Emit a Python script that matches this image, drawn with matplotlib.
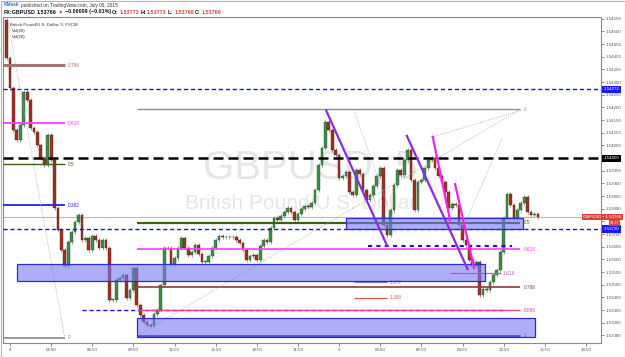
import matplotlib
matplotlib.use("Agg")
import matplotlib.pyplot as plt
import matplotlib.transforms as mtransforms
from matplotlib.patches import Rectangle
import numpy as np

plt.rcParams['font.family'] = ['Liberation Sans', 'DejaVu Sans']

first_open = 1.54545
closes = [
    1.54395, 1.54276, 1.54111, 1.54071, 1.54130, 1.54261, 1.54229, 1.54118, 1.54103, 1.54051,
    1.54000, 1.53972, 1.54091, 1.53992, 1.53803, 1.53716, 1.53637, 1.53574, 1.53668, 1.53708,
    1.53747, 1.53775, 1.53676, 1.53684, 1.53637, 1.53692, 1.53676, 1.53645, 1.53676, 1.53645,
    1.53440, 1.53440, 1.53518, 1.53526, 1.53538, 1.53447, 1.53479, 1.53566, 1.53420, 1.53380,
    1.53353, 1.53341, 1.53337, 1.53384, 1.53400, 1.53499, 1.53645, 1.53645, 1.53582, 1.53605,
    1.53645, 1.53684, 1.53645, 1.53617, 1.53629, 1.53657, 1.53621, 1.53590, 1.53590, 1.53613,
    1.53645, 1.53676, 1.53692, 1.53688, 1.53688, 1.53688, 1.53688, 1.53676, 1.53665, 1.53637,
    1.53597, 1.53613, 1.53617, 1.53597, 1.53653, 1.53676, 1.53668, 1.53724, 1.53763, 1.53755,
    1.53771, 1.53787, 1.53803, 1.53787, 1.53755, 1.53779, 1.53799, 1.53811, 1.53807, 1.53822,
    1.53874, 1.53972, 1.54039, 1.54142, 1.54111, 1.54032, 1.54012, 1.53921, 1.53929, 1.53945,
    1.53866, 1.53854, 1.53953, 1.53937, 1.53874, 1.53834, 1.53854, 1.53889, 1.53929, 1.53961,
    1.53736, 1.53696, 1.53795, 1.53893, 1.53953, 1.53933, 1.53992, 1.54032, 1.53913, 1.53795,
    1.53905, 1.53913, 1.53961, 1.53992, 1.54000, 1.53961, 1.53929, 1.53905, 1.53866, 1.53803,
    1.53818, 1.53814, 1.53736, 1.53676, 1.53657, 1.53597, 1.53574, 1.53590, 1.53459, 1.53483,
    1.53479, 1.53511, 1.53538, 1.53558, 1.53629, 1.53763, 1.53858, 1.53814, 1.53763, 1.53795,
    1.53822, 1.53846, 1.53787, 1.53775, 1.53779, 1.53766,
]
bar_hours = np.arange(len(closes)) * 0.25 - 0.25   # hours from Jul 8 00:00

xtick_hours = [0, 3, 6, 9, 12, 15, 18, 21, 24, 27, 30, 33, 36, 39, 42]
xtick_labels = ['8', '03:00', '06:00', '09:00', '12:00', '15:00', '18:00', '21:00',
                '9', '03:00', '06:00', '09:00', '12:00', '15:00', '18:00']

# fibonacci retracement, left (0 -> 1 prices, time span)
fib1_levels = [0, 0.382, 0.5, 0.618, 0.786]
fib1_colors = ['#8c8c8c', '#2323e6', '#3d5f1c', '#ff3cff', '#a8726e']
fib1_widths = [1.2, 1.3, 1.0, 1.3, 2.2]
fib1_prices = (1.53290, 1.54660)
fib1_span = (-0.55, 4.0)

# fibonacci retracement, right
fib2_levels = [0, 0.5, 0.618, 0.786, 0.886, 1]
fib2_colors = ['#8c8c8c', '#3d5f1c', '#ff3cff', '#8c3b3b', '#e8409a', '#1a1ad8']
fib2_widths = [1.0, 1.6, 1.2, 1.2, 1.0, 2.0]
fib2_prices = (1.54192, 1.53298)
fib2_span = (9.26, 37.2)

# supply / demand zones
zone_start = [0.51, 24.5, 9.26]
zone_end = [34.65, 37.4, 38.3]
zone_low = [1.53515, 1.53719, 1.53293]
zone_high = [1.53582, 1.53763, 1.53367]

# full width horizontal levels
hline_prices = [1.54272, 1.54000, 1.53720]
hline_colors = ['#1515e0', '#000000', '#1515e0']

# trend lines (t0, p0, t1, p1)
purple_lines = [(23.05, 1.54189, 27.50, 1.53654), (28.94, 1.54088, 33.37, 1.53562)]
magenta_lines = [(30.83, 1.54084, 32.09, 1.53755), (32.46, 1.53897, 33.84, 1.53566)]
dotted_lines = [(-0.55, 1.54660, 4.0, 1.53290), (9.26, 1.53298, 37.2, 1.54192),
                (25.09, 1.54189, 27.86, 1.53763), (35.89, 1.54079, 32.82, 1.53696),
                (30.78, 1.54083, 37.27, 1.54189)]

# fib extension levels
ext_labels = ['1.272', '1.386', '1.618']
ext_prices = [1.53509, 1.53449, 1.53545]
ext_start = [25.09, 25.09, 32.09]
ext_end = [27.5, 27.5, 35.8]
ext_colors = ['#8585c8', '#e05555', '#b455d2']

yticks = np.arange(1.53300, 1.54551, 0.0005)
hidden_ticks = [1.54000, 1.53750]   # covered by the price boxes on the scale
last_price = 1.53766

W, H = 625, 357
fig = plt.figure(figsize=(W / 100, H / 100), dpi=100)
ax = fig.add_axes([3 / W, 14 / H, 598 / W, 326 / H])
ax.set_xlim(-0.51, 43.1)
ax.set_ylim(1.53270, 1.54557)

# candles
c = np.array(closes)
o = np.array([first_open] + closes[:-1])
up = c >= o
wick = 0.00008
hi = np.maximum(o, c) + wick
lo = np.minimum(o, c) - wick
ax.vlines(bar_hours, lo, hi, color='#8f8f8f', lw=0.6, zorder=3)
body = np.maximum(np.abs(c - o), 0.00002)
ax.bar(bar_hours[up], body[up], bottom=np.minimum(o, c)[up], width=0.2,
       color='#3f8a48', edgecolor='#245c2a', lw=0.3, zorder=4)
ax.bar(bar_hours[~up], body[~up], bottom=np.minimum(o, c)[~up], width=0.2,
       color='#9a3324', edgecolor='#5e1b12', lw=0.3, zorder=4)

# watermark
ax.text(0.513, 0.537, 'GBPUSD, 5', transform=ax.transAxes, ha='center', va='center',
        fontsize=29, color='#e6e6e6', zorder=0)
ax.text(0.497, 0.429, 'British Pound/U.S. Dollar', transform=ax.transAxes, ha='center',
        va='center', fontsize=15, color='#e6e6e6', zorder=0)

# current price line
ax.axhline(last_price, color='#f2a49c', lw=0.8, zorder=2)

# horizontal levels
for p, col in zip(hline_prices, hline_colors):
    lw = 1.8 if col == '#000000' else 1.0
    ax.axhline(p, color=col, lw=lw, dashes=(4, 2) if lw > 1.5 else (3, 2), zorder=5)
ax.hlines(1.53400, 5.25, 36.1, color='#1515e0', lw=1.0, linestyles=(0, (3, 2)), zorder=5)
ax.hlines(1.53654, 26.1, 36.6, color='#1515e0', lw=1.5, linestyles=(0, (2, 2)), zorder=5)

# fibonacci
for levels, colors, widths, (p0, p1), (t0, t1) in [
        (fib1_levels, fib1_colors, fib1_widths, fib1_prices, fib1_span),
        (fib2_levels, fib2_colors, fib2_widths, fib2_prices, fib2_span)]:
    for lev, col, lw in zip(levels, colors, widths):
        p = p0 + lev * (p1 - p0)
        ax.hlines(p, t0, t1, color=col, lw=lw, zorder=5)
        ax.text(t1 + 0.25, p, f'{lev:g}', color=col, fontsize=3.4, va='center', ha='left', zorder=6)

for lab, p, t0, t1, col in zip(ext_labels, ext_prices, ext_start, ext_end, ext_colors):
    ax.hlines(p, t0, t1, color=col, lw=0.9, zorder=5)
    ax.text(t1 + 0.15, p, lab, color=col, fontsize=3.4, va='center', ha='left', zorder=6)

# zones
for t0, t1, p0, p1 in zip(zone_start, zone_end, zone_low, zone_high):
    ax.add_patch(Rectangle((t0, p0), t1 - t0, p1 - p0, facecolor='#7878f0', alpha=0.6,
                           edgecolor='none', zorder=6))
    ax.add_patch(Rectangle((t0, p0), t1 - t0, p1 - p0, fill=False,
                           edgecolor='#2a2ae0', lw=0.9, zorder=6))

# trend lines
for t0, p0, t1, p1 in dotted_lines:
    ax.plot([t0, t1], [p0, p1], color='#a8a8a8', lw=0.6, ls=(0, (1, 1.5)), zorder=5)
for t0, p0, t1, p1 in purple_lines:
    ax.plot([t0, t1], [p0, p1], color='#8a2be2', lw=1.6, zorder=7)
for t0, p0, t1, p1 in magenta_lines:
    ax.plot([t0, t1], [p0, p1], color='#ff1cf0', lw=1.6, zorder=7)

# axes styling
for s in ax.spines.values():
    s.set_color('#8a8a8a')
    s.set_linewidth(0.8)
ax.yaxis.tick_right()
ax.set_yticks(yticks)
ax.set_yticklabels(['' if min(abs(v - h) for h in hidden_ticks) < 1e-7 else f'{v:.5f}'
                    for v in yticks])
ax.set_xticks(xtick_hours)
ax.set_xticklabels(xtick_labels)
ax.tick_params(axis='both', labelsize=3.2, colors='#555555', length=2, width=0.5, pad=1.5)
ax.tick_params(axis='y', pad=1.2)

# price labels on the scale
blend = mtransforms.blended_transform_factory(ax.transAxes, ax.transData)
for p, fc in [(1.54272, '#1a1aff'), (1.54000, '#000000'), (1.53720, '#1a1aff')]:
    ax.text(1.004, p, f'{p:.5f}', transform=blend, fontsize=3.2, color='white', va='center',
            ha='left', bbox=dict(boxstyle='square,pad=0.35', fc=fc, ec='none'), zorder=10,
            clip_on=False)
ax.text(1.034, last_price + 0.00002, 'GBPUSD \u2022 1.53766', transform=blend, fontsize=3.2,
        color='white', va='center', ha='right',
        bbox=dict(boxstyle='square,pad=0.3', fc='#d9443a', ec='none'), zorder=10, clip_on=False)
ax.text(1.031, last_price - 0.00022, '02:27', transform=blend, fontsize=2.8, color='white',
        va='center', ha='right', bbox=dict(boxstyle='square,pad=0.2', fc='#d9443a', ec='none'),
        zorder=10, clip_on=False)

# legend texts inside the pane
ax.text(0.012, 0.978, 'British Pound/U.S. Dollar, 5, FXCM', transform=ax.transAxes,
        fontsize=3.2, color='#333333', va='center', zorder=8)
ax.text(0.015, 0.957, 'Vol(20)', transform=ax.transAxes, fontsize=3.2, color='#333333', va='center')
ax.text(0.015, 0.939, 'Vol(20)', transform=ax.transAxes, fontsize=3.2, color='#333333', va='center')

# header rows
renderer = fig.canvas.get_renderer()


def write_row(pieces, x, y, size):
    for text, col, weight in pieces:
        t = fig.text(x, y, text, color=col, fontsize=size, fontweight=weight, va='center', ha='left')
        bb = t.get_window_extent(renderer=renderer)
        x = bb.x1 / W + 1.2 / W


write_row([('KMask', '#2b6fd6', 'bold'), ('published on TradingView.com, July 09, 2015', '#333333', 'normal')],
          4 / W, 1 - 5 / H, 3.4)
write_row([('FX:GBPUSD', '#111111', 'bold'), ('1.53766', '#111111', 'bold'), ('\u25bc', '#d9443a', 'normal'),
           ('\u22120.00009 (\u22120.01%)', '#111111', 'bold'),
           ('O:', '#111111', 'bold'), ('1.53773', '#d9443a', 'bold'),
           ('H:', '#111111', 'bold'), ('1.53773', '#d9443a', 'bold'),
           ('L:', '#111111', 'bold'), ('1.53766', '#d9443a', 'bold'),
           ('C:', '#111111', 'bold'), ('1.53766', '#d9443a', 'bold')],
          4 / W, 1 - 12 / H, 3.9)

fig.patches.append(Rectangle((0.5 / W, 0.5 / H), 1 - 1 / W, 1 - 1 / H, transform=fig.transFigure,
                             fill=False, ec='#b5b5b5', lw=0.8))
fig.savefig('out.png', dpi=100)
